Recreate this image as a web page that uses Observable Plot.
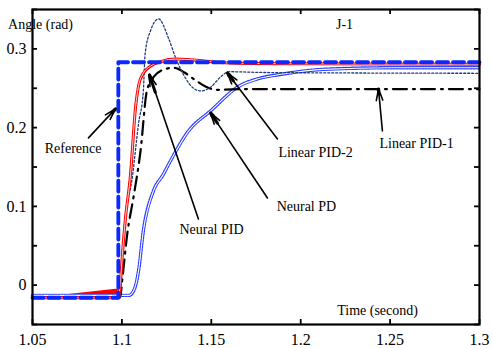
<!DOCTYPE html>
<html>
<head>
<meta charset="utf-8">
<script src="https://cdn.jsdelivr.net/npm/d3@7"></script>
<script src="https://cdn.jsdelivr.net/npm/@observablehq/plot@0.6"></script>
<style>
  html, body { margin: 0; padding: 0; background: #fff; }
  #chart { width: 493px; height: 348px; }
</style>
</head>
<body>
<div id="chart"></div>
<script>
// ---- data ----
const xTicks = [1.05, 1.1, 1.15, 1.2, 1.25, 1.3];
const xTickLabels = ["1.05", "1.1", "1.15", "1.2", "1.25", "1.3"];
const yTicks = [-0.05, 0, 0.05, 0.1, 0.15, 0.2, 0.25, 0.3, 0.35];
const yLabelTicks = [0, 0.1, 0.2, 0.3];
const yTickLabels = ["0", "0.1", "0.2", "0.3"];

const refT = [1.05, 1.098, 1.098, 1.3];
const refY = [-0.016, -0.016, 0.283, 0.283];

const nPidT = [1.05, 1.098, 1.099, 1.1, 1.101, 1.102, 1.1048, 1.1076, 1.1095, 1.1117, 1.116, 1.122, 1.13, 1.14, 1.16, 1.2, 1.3];
const nPidY = [-0.016, -0.016, 0.0, 0.03, 0.06, 0.085, 0.14, 0.225, 0.255, 0.268, 0.278, 0.284, 0.287, 0.286, 0.282, 0.281, 0.2805];

const wedgeT = [1.05, 1.098];
const wedgeLo = [-0.018, -0.018];
const wedgeHi = [-0.017, -0.005];

const nPdT = [1.05, 1.104, 1.107, 1.1093, 1.112, 1.1177, 1.123, 1.127, 1.137, 1.15, 1.165, 1.176, 1.19, 1.213, 1.25, 1.3];
const nPdY = [-0.013, -0.013, -0.005, 0.018, 0.069, 0.12, 0.14, 0.157, 0.195, 0.222, 0.252, 0.262, 0.268, 0.274, 0.276, 0.276];

const lPid2T = [1.05, 1.099, 1.1, 1.101, 1.106, 1.1093, 1.112, 1.113, 1.116, 1.1205, 1.126, 1.13, 1.135, 1.14, 1.144, 1.15, 1.155, 1.16, 1.18, 1.3];
const lPid2Y = [-0.016, -0.016, 0.02, 0.065, 0.14, 0.205, 0.247, 0.294, 0.323, 0.338, 0.314, 0.289, 0.265, 0.25, 0.2466, 0.252, 0.264, 0.271, 0.27, 0.269];

const lPid1T = [1.05, 1.099, 1.1003, 1.103, 1.1066, 1.1104, 1.114, 1.118, 1.1216, 1.129, 1.135, 1.14, 1.147, 1.153, 1.17, 1.3];
const lPid1Y = [-0.016, -0.016, 0.009, 0.065, 0.113, 0.17, 0.247, 0.265, 0.272, 0.276, 0.27, 0.262, 0.252, 0.248, 0.249, 0.249];

// annotations: label text, label position, arrow tail and head (data units)
const labels = ["Reference", "Neural PID", "Neural PD", "Linear PID-2", "Linear PID-1"];
const labelX = [1.0727, 1.1501, 1.2032, 1.2083, 1.2648];
const labelY = [0.173, 0.07, 0.0992, 0.168, 0.1793];
const arrowX1 = [1.0813, 1.1428, 1.1814, 1.187, 1.2457];
const arrowY1 = [0.187, 0.084, 0.1107, 0.1856, 0.1958];
const arrowX2 = [1.0964, 1.1154, 1.1496, 1.159, 1.2435];
const arrowY2 = [0.2238, 0.267, 0.2187, 0.2695, 0.249];

const titles = ["Angle (rad)", "J-1", "Time (second)"];
const titleX = [1.0545, 1.2245, 1.243];
const titleY = [0.3305, 0.3305, -0.0317];
const titleAnchor = ["start", "middle", "middle"];

// ---- build tables ----
const zip = (t, y) => t.map((x, i) => ({x, y: y[i]}));
const ref = zip(refT, refY);
const nPid = zip(nPidT, nPidY);
const nPd = zip(nPdT, nPdY);
const lPid2 = zip(lPid2T, lPid2Y);
const lPid1 = zip(lPid1T, lPid1Y);
const wedge = wedgeT.map((x, i) => ({x, lo: wedgeLo[i], hi: wedgeHi[i]}));
const ann = labels.map((text, i) => ({text, lx: labelX[i], ly: labelY[i], x1: arrowX1[i], y1: arrowY1[i], x2: arrowX2[i], y2: arrowY2[i]}));
// short segment right before each head, for a solid-looking arrowhead
const heads = ann.map(a => ({x1: a.x2 - 0.12 * (a.x2 - a.x1), y1: a.y2 - 0.12 * (a.y2 - a.y1), x2: a.x2, y2: a.y2}));
const tit = titles.map((text, i) => ({text, x: titleX[i], y: titleY[i], a: titleAnchor[i]}));

const font = "Liberation Serif, Times New Roman, serif";

const W = 493, H = 348, ML = 32, MR = 14, MT = 9, MB = 24, TICK = 5;
const innerW = W - ML - MR, innerH = H - MT - MB;
const tk = {stroke: "#000", strokeWidth: 1.8};

const chart = Plot.plot({
  width: W,
  height: H,
  marginLeft: ML,
  marginRight: MR,
  marginTop: MT,
  marginBottom: MB,
  style: {fontFamily: font, background: "#fff", color: "#000"},
  x: {domain: [1.05, 1.3], axis: null},
  y: {domain: [-0.05, 0.35], axis: null},
  marks: [
    // tick marks pointing inward on all four sides
    Plot.ruleX(xTicks, {x: d => d, insetTop: innerH - TICK, ...tk}),
    Plot.ruleX(xTicks, {x: d => d, insetBottom: innerH - TICK, ...tk}),
    Plot.ruleY(yTicks, {y: d => d, insetRight: innerW - TICK, ...tk}),
    Plot.ruleY(yTicks, {y: d => d, insetLeft: innerW - TICK, ...tk}),
    // tick labels
    Plot.axisX(xTicks, {anchor: "bottom", tickSize: 0, tickPadding: 9, fontSize: 16, tickFormat: (d, i) => xTickLabels[i], label: null}),
    Plot.axisY(yLabelTicks, {anchor: "left", tickSize: 0, tickPadding: 6, fontSize: 16, tickFormat: (d, i) => yTickLabels[i], label: null}),
    // red wedge artifact
    Plot.areaY(wedge, {x: "x", y1: "lo", y2: "hi", fill: "#ff0000"}),
    // Neural PD (blue double dotted)
    Plot.line(nPd, {x: "x", y: "y", stroke: "#2a3cff", strokeWidth: 3.4, strokeDasharray: "1.6,1.6", curve: "monotone-x"}),
    Plot.line(nPd, {x: "x", y: "y", stroke: "#fff", strokeWidth: 1.1, curve: "monotone-x"}),
    // Linear PID-1 (black dash-dot)
    Plot.line(lPid1, {x: "x", y: "y", stroke: "#000", strokeWidth: 2.2, strokeDasharray: "14,6,2,6", curve: "monotone-x"}),
    // Linear PID-2 (navy dotted)
    Plot.line(lPid2, {x: "x", y: "y", stroke: "#203c80", strokeWidth: 1.3, strokeDasharray: "2,2", curve: "monotone-x"}),
    // Neural PID (red double line)
    Plot.line(nPid, {x: "x", y: "y", stroke: "#ff0000", strokeWidth: 3, curve: "monotone-x"}),
    Plot.line(nPid, {x: "x", y: "y", stroke: "#ffd0d0", strokeWidth: 1, curve: "monotone-x"}),
    // Reference (blue dashed)
    Plot.line(ref, {x: "x", y: "y", stroke: "#0a28ff", strokeWidth: 3.8, strokeDasharray: "11,5"}),
    // annotation arrows
    Plot.arrow(ann, {x1: "x1", y1: "y1", x2: "x2", y2: "y2", stroke: "#000", strokeWidth: 1.6, headLength: 11, headAngle: 32, insetEnd: 0, insetStart: 0}),
    Plot.arrow(heads, {x1: "x1", y1: "y1", x2: "x2", y2: "y2", stroke: "#000", strokeWidth: 3, headLength: 8, headAngle: 22, insetEnd: 0, insetStart: 0}),
    Plot.text(ann, {x: "lx", y: "ly", text: "text", fontSize: 14, fill: "#000"}),
    Plot.text(tit, {x: "x", y: "y", text: "text", textAnchor: "a", fontSize: 14, fill: "#000"}),
    Plot.frame({stroke: "#000", strokeWidth: 2.2})
  ]
});
document.getElementById("chart").appendChild(chart);
</script>
</body>
</html>
